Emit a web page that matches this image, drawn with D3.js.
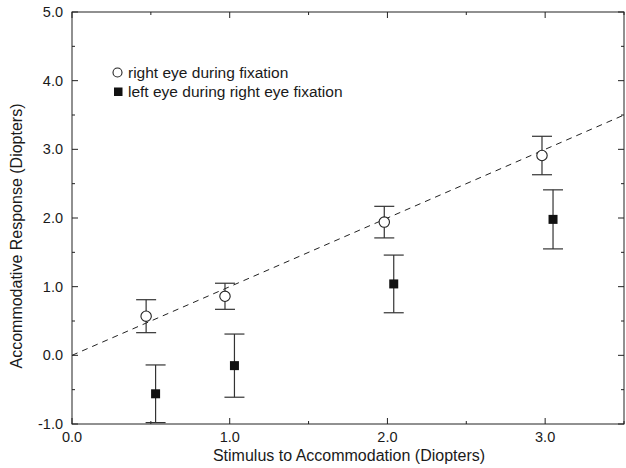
<!DOCTYPE html>
<html>
<head>
<meta charset="utf-8">
<script src="https://cdn.jsdelivr.net/npm/d3@7"></script>
<style>
  body { margin: 0; background: #fff; }
  svg text { font-family: "Liberation Sans", Arial, sans-serif; fill: #1a1a1a; }
</style>
</head>
<body>
<svg id="chart" width="626" height="468"></svg>
<script>
// right eye during fixation (open circles)
const rightX = [0.47, 0.97, 1.98, 2.98];
const rightY = [0.57, 0.86, 1.94, 2.91];
const rightErr = [0.24, 0.19, 0.23, 0.28];
// left eye during right eye fixation (filled squares)
const leftX = [0.53, 1.03, 2.04, 3.05];
const leftY = [-0.56, -0.15, 1.04, 1.98];
const leftErr = [0.42, 0.46, 0.42, 0.43];

const xMajor = [0, 1, 2, 3];
const xMinor = [0.5, 1.5, 2.5, 3.5];
const yMajor = [-1, 0, 1, 2, 3, 4, 5];
const yMinor = [-0.5, 0.5, 1.5, 2.5, 3.5, 4.5];

const margin = {left: 72, right: 2, top: 12, bottom: 44};
const width = 626, height = 468;
const svg = d3.select("#chart");

const x = d3.scaleLinear().domain([0, 3.5]).range([margin.left, width - margin.right]);
const y = d3.scaleLinear().domain([-1, 5]).range([height - margin.bottom, margin.top]);

const ink = "#222";

// frame
svg.append("rect")
   .attr("x", x(0)).attr("y", y(5))
   .attr("width", x(3.5) - x(0)).attr("height", y(-1) - y(5))
   .attr("fill", "none").attr("stroke", ink).attr("stroke-width", 1);

// ticks on all four sides, pointing inward
const tickLen = (major) => major ? 6 : 3;
function xTicks(vals, major) {
  vals.forEach(v => {
    svg.append("line").attr("x1", x(v)).attr("x2", x(v))
       .attr("y1", y(-1)).attr("y2", y(-1) - tickLen(major)).attr("stroke", ink);
    svg.append("line").attr("x1", x(v)).attr("x2", x(v))
       .attr("y1", y(5)).attr("y2", y(5) + tickLen(major)).attr("stroke", ink);
  });
}
function yTicks(vals, major) {
  vals.forEach(v => {
    svg.append("line").attr("y1", y(v)).attr("y2", y(v))
       .attr("x1", x(0)).attr("x2", x(0) + tickLen(major)).attr("stroke", ink);
    svg.append("line").attr("y1", y(v)).attr("y2", y(v))
       .attr("x1", x(3.5)).attr("x2", x(3.5) - tickLen(major)).attr("stroke", ink);
  });
}
xTicks(xMajor, true); xTicks(xMinor, false);
yTicks(yMajor, true); yTicks(yMinor, false);

// tick labels
svg.selectAll(".xlab").data(xMajor).enter().append("text")
   .attr("x", d => x(d)).attr("y", y(-1) + 18)
   .attr("text-anchor", "middle").attr("font-size", 14.5)
   .text(d => d.toFixed(1));
svg.selectAll(".ylab").data(yMajor).enter().append("text")
   .attr("x", x(0) - 9).attr("y", d => y(d) + 5)
   .attr("text-anchor", "end").attr("font-size", 14.5)
   .text(d => d.toFixed(1));

// axis titles
svg.append("text")
   .attr("x", 349).attr("y", 461)
   .attr("text-anchor", "middle").attr("font-size", 16)
   .text("Stimulus to Accommodation (Diopters)");
svg.append("text")
   .attr("transform", `translate(22,236) rotate(-90)`)
   .attr("text-anchor", "middle").attr("font-size", 16)
   .text("Accommodative Response (Diopters)");

// identity line
svg.append("line")
   .attr("x1", x(0)).attr("y1", y(0))
   .attr("x2", x(3.5)).attr("y2", y(3.5))
   .attr("stroke", ink).attr("stroke-width", 1)
   .attr("stroke-dasharray", "6,5");

const plot = svg.append("g");
plot.append("clipPath").attr("id", "clip").append("rect")
    .attr("x", x(0)).attr("y", y(5))
    .attr("width", x(3.5) - x(0)).attr("height", y(-1) - y(5));

function errorBars(xs, ys, es) {
  const g = plot.append("g").attr("clip-path", "url(#clip)")
                .attr("stroke", "#333").attr("stroke-width", 1.2);
  xs.forEach((xv, i) => {
    const cx = x(xv), top = y(ys[i] + es[i]), bot = y(ys[i] - es[i]);
    g.append("line").attr("x1", cx).attr("x2", cx).attr("y1", top).attr("y2", bot);
    g.append("line").attr("x1", cx - 10).attr("x2", cx + 10).attr("y1", top).attr("y2", top);
    g.append("line").attr("x1", cx - 10).attr("x2", cx + 10).attr("y1", bot).attr("y2", bot);
  });
}
errorBars(rightX, rightY, rightErr);
errorBars(leftX, leftY, leftErr);

plot.selectAll(".circ").data(rightX).enter().append("circle")
    .attr("cx", d => x(d)).attr("cy", (d, i) => y(rightY[i])).attr("r", 5.2)
    .attr("fill", "#fff").attr("stroke", ink).attr("stroke-width", 1.1);
plot.selectAll(".sq").data(leftX).enter().append("rect")
    .attr("x", d => x(d) - 4.5).attr("y", (d, i) => y(leftY[i]) - 4.5)
    .attr("width", 9).attr("height", 9).attr("fill", "#111");

// legend
const legend = svg.append("g");
legend.append("circle").attr("cx", 117.5).attr("cy", 72.5).attr("r", 4.5)
      .attr("fill", "#fff").attr("stroke", ink).attr("stroke-width", 1.1);
legend.append("text").attr("x", 128).attr("y", 77.5).attr("font-size", 15.5)
      .text("right eye during fixation");
legend.append("rect").attr("x", 114).attr("y", 87.5).attr("width", 8.5).attr("height", 8.5)
      .attr("fill", "#111");
legend.append("text").attr("x", 128).attr("y", 97).attr("font-size", 15.5)
      .text("left eye during right eye fixation");
</script>
</body>
</html>
